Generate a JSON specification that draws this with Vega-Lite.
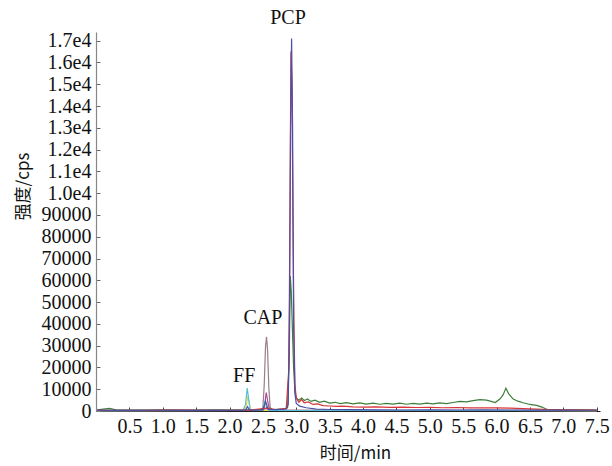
{
  "$schema": "https://vega.github.io/schema/vega-lite/v6.json",
  "width": 504,
  "height": 379,
  "autosize": {"type": "none"},
  "padding": {"left": 96, "top": 32, "right": 12, "bottom": 55},
  "background": "white",
  "config": {"view": {"stroke": null},
             "axis": {"labelFont": "Liberation Serif", "labelFontSize": 20, "labelOverlap": false, "labelBound": false, "labelColor": "#111", "grid": false}},
  "encoding": {
    "x": {"field": "t", "type": "quantitative",
          "scale": {"domain": [0, 7.55], "nice": false, "zero": false},
          "axis": {"values": [0.5,1.0,1.5,2.0,2.5,3.0,3.5,4.0,4.5,5.0,5.5,6.0,6.5,7.0,7.5],
                   "format": ".1f", "grid": false, "domainColor": "#222", "domainWidth": 1.2,
                   "tickColor": "#444", "tickSize": -4, "labelPadding": 9,
                   "labelFont": "Liberation Serif", "labelFontSize": 20, "labelColor": "#111", "labelOverlap": false,
                   "title": "时间/min", "titleFont": "Noto Sans CJK SC", "titleFontSize": 17, "titleFontWeight": "normal",
                   "titleColor": "#111", "titleX": 259, "titleY": 42, "titleBaseline": "middle", "titleAlign": "center"}},
    "y": {"field": "v", "type": "quantitative",
          "scale": {"domain": [0, 174000], "nice": false},
          "axis": {"values": [0,10000,20000,30000,40000,50000,60000,70000,80000,90000,100000,110000,120000,130000,140000,150000,160000,170000],
                   "labelExpr": "datum.value < 100000 ? format(datum.value, 'd') : format(datum.value / 100000, '.1f') + 'e4'",
                   "grid": false, "domainColor": "#888", "domainWidth": 1.2,
                   "tickColor": "#666", "tickSize": -4, "labelPadding": 9,
                   "labelFont": "Liberation Serif", "labelFontSize": 20, "labelColor": "#111", "labelOverlap": false,
                   "title": "强度/cps", "titleFont": "Noto Sans CJK SC", "titleFontSize": 17, "titleFontWeight": "normal",
                   "titleColor": "#111", "titleX": -73, "titleY": 154, "titleAngle": -90, "titleBaseline": "middle", "titleAlign": "center"}}
  },
  "layer": [
    {
      "data": {"values": [
        {"s":"m","t":0.02,"v":300},{"s":"m","t":1.0,"v":300},{"s":"m","t":2.0,"v":300},{"s":"m","t":2.45,"v":500},{"s":"m","t":2.5,"v":1500},{"s":"m","t":2.52,"v":12000},{"s":"m","t":2.54,"v":30000},{"s":"m","t":2.555,"v":34000},{"s":"m","t":2.57,"v":28000},{"s":"m","t":2.59,"v":10000},{"s":"m","t":2.61,"v":1500},{"s":"m","t":2.65,"v":500},{"s":"m","t":3.0,"v":400},{"s":"m","t":4.0,"v":300},{"s":"m","t":5.0,"v":300},{"s":"m","t":6.0,"v":300},{"s":"m","t":7.0,"v":300},{"s":"m","t":7.5,"v":300},
        {"s":"p","t":0.02,"v":200},{"s":"p","t":2.45,"v":300},{"s":"p","t":2.52,"v":1500},{"s":"p","t":2.55,"v":8500},{"s":"p","t":2.575,"v":4000},{"s":"p","t":2.6,"v":800},{"s":"p","t":2.65,"v":300},{"s":"p","t":7.5,"v":200},
        {"s":"y","t":0.02,"v":200},{"s":"y","t":2.2,"v":300},{"s":"y","t":2.25,"v":2000},{"s":"y","t":2.275,"v":7000},{"s":"y","t":2.3,"v":2500},{"s":"y","t":2.32,"v":400},{"s":"y","t":2.4,"v":300},{"s":"y","t":7.5,"v":200},
        {"s":"c","t":0.02,"v":200},{"s":"c","t":2.2,"v":300},{"s":"c","t":2.24,"v":3000},{"s":"c","t":2.265,"v":10500},{"s":"c","t":2.285,"v":6000},{"s":"c","t":2.31,"v":800},{"s":"c","t":2.35,"v":300},{"s":"c","t":2.5,"v":400},{"s":"c","t":2.53,"v":4500},{"s":"c","t":2.56,"v":1000},{"s":"c","t":2.6,"v":300},{"s":"c","t":7.5,"v":200},
        {"s":"g","t":0.02,"v":500},{"s":"g","t":0.2,"v":1200},{"s":"g","t":0.3,"v":500},{"s":"g","t":0.7,"v":400},{"s":"g","t":1.0,"v":500},{"s":"g","t":1.4,"v":400},{"s":"g","t":1.8,"v":500},{"s":"g","t":2.2,"v":450},{"s":"g","t":2.5,"v":600},{"s":"g","t":2.56,"v":1500},{"s":"g","t":2.65,"v":700},{"s":"g","t":2.8,"v":900},{"s":"g","t":2.87,"v":1500},{"s":"g","t":2.895,"v":25000},{"s":"g","t":2.91,"v":62000},{"s":"g","t":2.925,"v":55000},{"s":"g","t":2.94,"v":40000},{"s":"g","t":2.96,"v":20000},{"s":"g","t":2.98,"v":9000},{"s":"g","t":3.0,"v":6000},{"s":"g","t":3.04,"v":5000},{"s":"g","t":3.08,"v":6000},{"s":"g","t":3.12,"v":4800},{"s":"g","t":3.17,"v":5500},{"s":"g","t":3.22,"v":4400},{"s":"g","t":3.28,"v":5000},{"s":"g","t":3.35,"v":4000},{"s":"g","t":3.42,"v":4500},{"s":"g","t":3.5,"v":3600},{"s":"g","t":3.58,"v":4000},{"s":"g","t":3.66,"v":3400},{"s":"g","t":3.75,"v":3800},{"s":"g","t":3.85,"v":3300},{"s":"g","t":3.95,"v":3700},{"s":"g","t":4.05,"v":3200},{"s":"g","t":4.15,"v":3600},{"s":"g","t":4.25,"v":3100},{"s":"g","t":4.35,"v":3500},{"s":"g","t":4.45,"v":3200},{"s":"g","t":4.55,"v":3600},{"s":"g","t":4.65,"v":3100},{"s":"g","t":4.75,"v":3500},{"s":"g","t":4.85,"v":3200},{"s":"g","t":4.95,"v":3600},{"s":"g","t":5.05,"v":3300},{"s":"g","t":5.15,"v":3700},{"s":"g","t":5.25,"v":3400},{"s":"g","t":5.35,"v":3900},{"s":"g","t":5.45,"v":4400},{"s":"g","t":5.55,"v":4200},{"s":"g","t":5.65,"v":4800},{"s":"g","t":5.75,"v":5200},{"s":"g","t":5.85,"v":5000},{"s":"g","t":5.92,"v":4400},{"s":"g","t":5.98,"v":3900},{"s":"g","t":6.05,"v":5500},{"s":"g","t":6.1,"v":7500},{"s":"g","t":6.14,"v":10500},{"s":"g","t":6.18,"v":8000},{"s":"g","t":6.25,"v":5500},{"s":"g","t":6.32,"v":4500},{"s":"g","t":6.4,"v":3800},{"s":"g","t":6.5,"v":3000},{"s":"g","t":6.6,"v":2600},{"s":"g","t":6.68,"v":1800},{"s":"g","t":6.75,"v":800},{"s":"g","t":6.9,"v":600},{"s":"g","t":7.1,"v":500},{"s":"g","t":7.3,"v":500},{"s":"g","t":7.5,"v":450},
        {"s":"r","t":0.02,"v":300},{"s":"r","t":0.4,"v":350},{"s":"r","t":0.8,"v":300},{"s":"r","t":1.2,"v":400},{"s":"r","t":1.6,"v":300},{"s":"r","t":2.0,"v":350},{"s":"r","t":2.3,"v":400},{"s":"r","t":2.55,"v":1200},{"s":"r","t":2.7,"v":700},{"s":"r","t":2.85,"v":1200},{"s":"r","t":2.89,"v":20000},{"s":"r","t":2.905,"v":90000},{"s":"r","t":2.92,"v":165000},{"s":"r","t":2.935,"v":150000},{"s":"r","t":2.95,"v":90000},{"s":"r","t":2.965,"v":40000},{"s":"r","t":2.98,"v":12000},{"s":"r","t":3.0,"v":6000},{"s":"r","t":3.04,"v":4000},{"s":"r","t":3.08,"v":5200},{"s":"r","t":3.12,"v":3800},{"s":"r","t":3.18,"v":4200},{"s":"r","t":3.25,"v":3000},{"s":"r","t":3.32,"v":3300},{"s":"r","t":3.4,"v":2500},{"s":"r","t":3.5,"v":2300},{"s":"r","t":3.6,"v":2100},{"s":"r","t":3.7,"v":2200},{"s":"r","t":3.85,"v":1900},{"s":"r","t":4.0,"v":1800},{"s":"r","t":4.2,"v":1900},{"s":"r","t":4.4,"v":1700},{"s":"r","t":4.6,"v":1800},{"s":"r","t":4.8,"v":1600},{"s":"r","t":5.0,"v":1700},{"s":"r","t":5.2,"v":1500},{"s":"r","t":5.4,"v":1600},{"s":"r","t":5.6,"v":1400},{"s":"r","t":5.8,"v":1500},{"s":"r","t":6.0,"v":1400},{"s":"r","t":6.2,"v":1300},{"s":"r","t":6.4,"v":1100},{"s":"r","t":6.6,"v":900},{"s":"r","t":6.8,"v":600},{"s":"r","t":7.0,"v":500},{"s":"r","t":7.3,"v":450},{"s":"r","t":7.5,"v":400},
        {"s":"b","t":0.02,"v":400},{"s":"b","t":0.3,"v":300},{"s":"b","t":0.6,"v":250},{"s":"b","t":0.9,"v":350},{"s":"b","t":1.2,"v":250},{"s":"b","t":1.5,"v":300},{"s":"b","t":1.8,"v":250},{"s":"b","t":2.1,"v":350},{"s":"b","t":2.24,"v":400},{"s":"b","t":2.27,"v":2000},{"s":"b","t":2.3,"v":400},{"s":"b","t":2.5,"v":500},{"s":"b","t":2.54,"v":4500},{"s":"b","t":2.58,"v":700},{"s":"b","t":2.7,"v":600},{"s":"b","t":2.85,"v":900},{"s":"b","t":2.88,"v":3000},{"s":"b","t":2.9,"v":50000},{"s":"b","t":2.915,"v":130000},{"s":"b","t":2.93,"v":171000},{"s":"b","t":2.945,"v":130000},{"s":"b","t":2.96,"v":40000},{"s":"b","t":2.98,"v":8000},{"s":"b","t":3.0,"v":3500},{"s":"b","t":3.05,"v":2200},{"s":"b","t":3.15,"v":1500},{"s":"b","t":3.3,"v":900},{"s":"b","t":3.5,"v":700},{"s":"b","t":3.8,"v":600},{"s":"b","t":4.2,"v":500},{"s":"b","t":4.6,"v":450},{"s":"b","t":5.0,"v":500},{"s":"b","t":5.4,"v":450},{"s":"b","t":5.8,"v":500},{"s":"b","t":6.2,"v":450},{"s":"b","t":6.6,"v":400},{"s":"b","t":7.0,"v":400},{"s":"b","t":7.3,"v":350},{"s":"b","t":7.5,"v":350}
      ]},
      "mark": {"type": "line", "strokeWidth": 1.2},
      "encoding": {
        "color": {"field": "s", "type": "nominal",
                  "scale": {"domain": ["m","p","y","c","g","r","b"],
                            "range": ["#9a7f88","#b0479a","#e2d84a","#5bbfd6","#3d7f3a","#d8363a","#4b4fa6"]},
                  "legend": null}
      }
    },
    {
      "data": {"values": [
        {"label": "PCP", "t": 2.876, "v": 180400},
        {"label": "CAP", "t": 2.5, "v": 42700},
        {"label": "FF", "t": 2.22, "v": 16070}
      ]},
      "mark": {"type": "text", "font": "Liberation Serif", "fontSize": 20, "color": "#111", "baseline": "middle", "align": "center"},
      "encoding": {
        "text": {"field": "label"}
      }
    }
  ]
}
